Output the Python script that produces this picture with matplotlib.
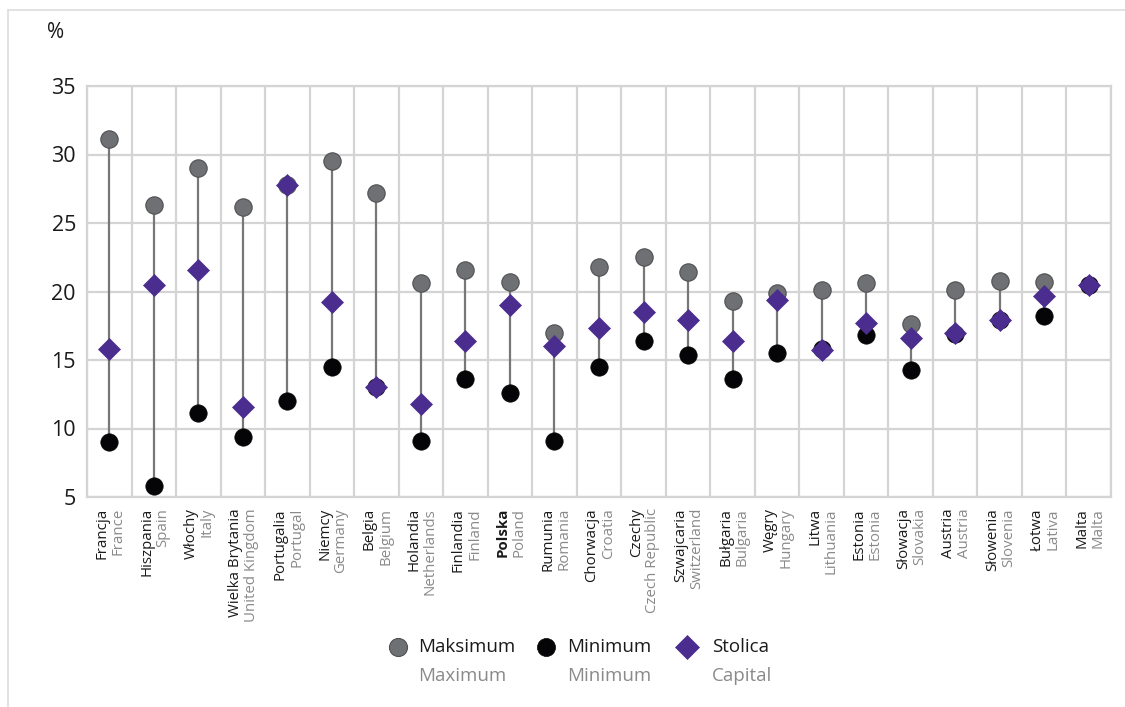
import matplotlib
matplotlib.use("Agg")
import matplotlib.pyplot as plt
from matplotlib.lines import Line2D
import numpy as np

plt.rcParams['font.family'] = ['Open Sans', 'DejaVu Sans']

# Country names (Polish / English)
countries_pl = ["Francja", "Hiszpania", "Włochy", "Wielka Brytania", "Portugalia",
                "Niemcy", "Belgia", "Holandia", "Finlandia", "Polska", "Rumunia",
                "Chorwacja", "Czechy", "Szwajcaria", "Bułgaria", "Węgry", "Litwa",
                "Estonia", "Słowacja", "Austria", "Słowenia", "Łotwa", "Malta"]
countries_en = ["France", "Spain", "Italy", "United Kingdom", "Portugal",
                "Germany", "Belgium", "Netherlands", "Finland", "Poland", "Romania",
                "Croatia", "Czech Republic", "Switzerland", "Bulgaria", "Hungary",
                "Lithuania", "Estonia", "Slovakia", "Austria", "Slovenia", "Lativa",
                "Malta"]

# Regional maximum, minimum and capital-region values (%)
maximum = [31.1, 26.3, 29.0, 26.2, 27.8, 29.5, 27.2, 20.6, 21.6, 20.7, 17.0, 21.8,
           22.5, 21.4, 19.3, 19.9, 20.1, 20.6, 17.6, 20.1, 20.8, 20.7, 20.5]
minimum = [9.0, 5.8, 11.1, 9.4, 12.0, 14.5, 13.0, 9.1, 13.6, 12.6, 9.1, 14.5,
           16.4, 15.4, 13.6, 15.5, 15.8, 16.8, 14.3, 16.9, 17.9, 18.2, 20.5]
capital = [15.8, 20.5, 21.6, 11.6, 27.8, 19.2, 13.0, 11.8, 16.4, 19.0, 16.0, 17.3,
           18.5, 17.9, 16.4, 19.4, 15.7, 17.7, 16.6, 17.0, 17.9, 19.7, 20.5]

y_ticks = [5, 10, 15, 20, 25, 30, 35]
legend_pl = ["Maksimum", "Minimum", "Stolica"]
legend_en = ["Maximum", "Minimum", "Capital"]

GRID = "#d4d4d4"
GRAY_DOT = "#6f7073"
GRAY_EDGE = "#4f5052"
BLACK = "#050507"
PURPLE = "#4b2d8f"
STEM = "#777777"
EN_TEXT = "#8a8a8a"

W, H = 1125, 707
fig = plt.figure(figsize=(W / 100, H / 100), dpi=100)
ax = fig.add_axes([87 / W, 1 - 497 / H, (1111 - 87) / W, (497 - 86) / H])

x = np.arange(len(countries_pl))

# stems from minimum to maximum
ax.vlines(x, minimum, maximum, color=STEM, linewidth=1.6, zorder=2)
ax.plot(x, maximum, 'o', ms=12.5, mfc=GRAY_DOT, mec=GRAY_EDGE, mew=0.8, zorder=3, ls='none')
ax.plot(x, minimum, 'o', ms=12.5, mfc=BLACK, mec=BLACK, mew=0.5, zorder=3, ls='none')
ax.plot(x, capital, 'D', ms=11.5, mfc=PURPLE, mec=PURPLE, mew=0.5, zorder=4, ls='none')

ax.set_xlim(-0.5, len(x) - 0.5)
ax.set_ylim(5, 35)
ax.set_yticks(y_ticks)
ax.set_yticklabels([str(v) for v in y_ticks], fontsize=15.5, color="#1a1a1a")
ax.set_xticks(x)
ax.set_xticklabels([])
ax.set_xticks(np.arange(len(x) + 1) - 0.5, minor=True)
ax.tick_params(axis='both', which='both', length=0)
ax.tick_params(axis='y', pad=8)
ax.grid(True, axis='y', which='major', color=GRID, linewidth=1.6, zorder=0)
ax.grid(True, axis='x', which='minor', color=GRID, linewidth=1.6, zorder=0)
ax.grid(False, axis='x', which='major')
for s in ax.spines.values():
    s.set_color(GRID)
    s.set_linewidth(1.6)
ax.set_axisbelow(True)

# two-line country labels below each column
for i, (pl, en) in enumerate(zip(countries_pl, countries_en)):
    ax.annotate(pl, xy=(i, 0), xycoords=('data', 'axes fraction'),
                xytext=(-5.0, -8), textcoords='offset points',
                rotation=90, ha='center', va='top', fontsize=10.8, color="#1a1a1a",
                fontweight='bold' if pl == "Polska" else 'normal')
    ax.annotate(en, xy=(i, 0), xycoords=('data', 'axes fraction'),
                xytext=(6.6, -8), textcoords='offset points',
                rotation=90, ha='center', va='top', fontsize=10.8, color=EN_TEXT)

# unit label
fig.text(56 / W, 1 - 32 / H, "%", fontsize=15, color="#1a1a1a", ha='center', va='center')

# legend
styles = [dict(marker='o', ms=13, mfc=GRAY_DOT, mec=GRAY_EDGE, mew=0.8),
          dict(marker='o', ms=13, mfc=BLACK, mec=BLACK, mew=0.5),
          dict(marker='D', ms=12, mfc=PURPLE, mec=PURPLE, mew=0.5)]
marker_x = [398, 546, 687]
text_x = [418, 567, 712]
for st, mx, tx, pl, en in zip(styles, marker_x, text_x, legend_pl, legend_en):
    fig.add_artist(Line2D([mx / W], [1 - 647 / H], transform=fig.transFigure, ls='none', **st))
    fig.text(tx / W, 1 - 647 / H, pl, fontsize=13.5, color="#1a1a1a", ha='left', va='center')
    fig.text(tx / W, 1 - 676 / H, en, fontsize=13.5, color=EN_TEXT, ha='left', va='center')

# outer frame (top and left edges)
fig.add_artist(Line2D([7.5 / W, 1.0], [1 - 9.5 / H, 1 - 9.5 / H], transform=fig.transFigure,
                      color="#dddddd", linewidth=1.2))
fig.add_artist(Line2D([7.5 / W, 7.5 / W], [0.0, 1 - 9.5 / H], transform=fig.transFigure,
                      color="#dddddd", linewidth=1.2))

fig.savefig("out.png", dpi=100, facecolor="white")
